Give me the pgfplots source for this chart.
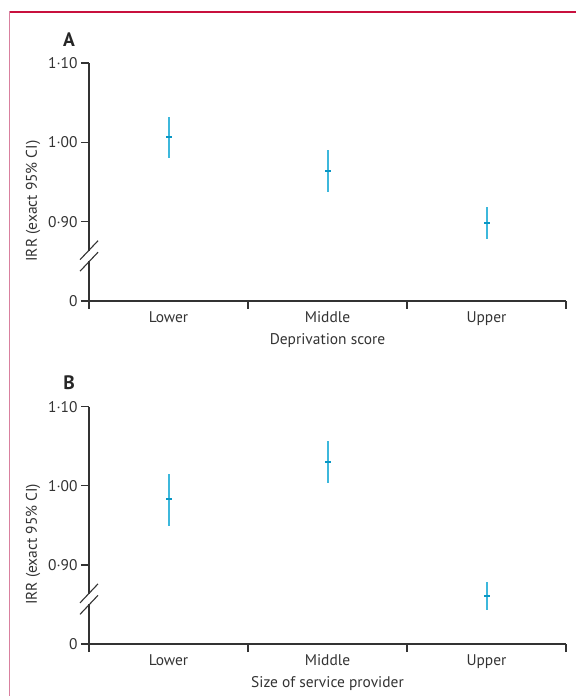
\documentclass[border=0pt]{standalone}
\usepackage{fontspec}
\setmainfont{PT Sans}
\usepackage{pgfplots}
\pgfplotsset{compat=1.18}

\definecolor{framered}{HTML}{C8103E}
\definecolor{framepink}{HTML}{D9809F}
\definecolor{ciline}{HTML}{3DB8DC}
\definecolor{cimid}{HTML}{0A97C5}
\definecolor{axgray}{HTML}{333333}

\pgfplotsset{
  panel/.style={
    scale only axis,
    width=477bp,
    xmin=0, xmax=3, ymin=0.8, ymax=1.1,
    axis lines=left,
    axis line style={axgray, line width=1.3bp, -},
    xtick={0.5,1.5,2.5},
    xticklabels={Lower,Middle,Upper},
    major x tick style={draw=none},
    minor xtick={0,1,2,3},
    minor x tick style={axgray, line width=1.3bp},
    ytick={0.8,0.9,1.0,1.1},
    yticklabels={0,0·90,1·00,1·10},
    ytick style={axgray, line width=1.3bp},
    tick align=outside,
    major tick length=8bp,
    minor tick length=8bp,
    ticklabel style={font=\fontsize{15.5}{18}\selectfont, text=axgray},
    xticklabel style={yshift=1bp},
    label style={font=\fontsize{15.5}{18}\selectfont, text=axgray},
    xlabel style={yshift=-1bp},
    ylabel style={at={(axis description cs:-0.117,0.42)}, rotate=0, anchor=center},
    clip=false,
  },
  ci/.style={
    only marks,
    mark=-,
    mark size=3bp,
    mark options={cimid, line width=2bp},
    error bars/.cd,
      y dir=both, y explicit,
      error mark=none,
      error bar style={ciline, line width=2bp},
  },
}

\newcommand{\axisbreak}{%
  \fill[white] ([xshift=-2bp]axis cs:0,0.8505) rectangle ([xshift=2bp]axis cs:0,0.8635);
  \draw[axgray, line width=1.1bp] ([xshift=-9bp,yshift=-9.5bp]axis cs:0,0.8640) -- ++(18bp,19bp);
  \draw[axgray, line width=1.1bp] ([xshift=-9bp,yshift=-9.5bp]axis cs:0,0.8495) -- ++(18bp,19bp);
}

\begin{document}
\begin{tikzpicture}
\useasboundingbox (0,0) rectangle (576bp,696bp);
\draw[framered, line width=1.6bp] (9bp,684bp) -- (576bp,684bp);
\draw[framepink, line width=1.6bp] (9.5bp,684.8bp) -- (9.5bp,0);

\node[font=\bfseries\fontsize{19.5}{22}\selectfont, text=black!85] at (69bp,656bp) {A};
\node[font=\bfseries\fontsize{19.5}{22}\selectfont, text=black!85] at (69bp,313bp) {B};

\begin{axis}[panel, at={(89bp,395bp)}, anchor=south west, height=238bp,
  xlabel={Deprivation score}, ylabel={IRR (exact 95\% CI)}]
\addplot+[ci] coordinates {
  (0.5,1.0067) += (0,0.0247) -= (0,0.0267)
  (1.5,0.9639) += (0,0.0261) -= (0,0.0259)
  (2.5,0.8980) += (0,0.0205) -= (0,0.0200)
};
\axisbreak
\end{axis}

\begin{axis}[panel, at={(89bp,52bp)}, anchor=south west, height=237.3bp,
  xlabel={Size of service provider}, ylabel={IRR (exact 95\% CI)}]
\addplot+[ci] coordinates {
  (0.5,0.9827) += (0,0.0324) -= (0,0.0337)
  (1.5,1.0306) += (0,0.0261) -= (0,0.0272)
  (2.5,0.8610) += (0,0.0176) -= (0,0.0180)
};
\axisbreak
\end{axis}
\end{tikzpicture}
\end{document}
